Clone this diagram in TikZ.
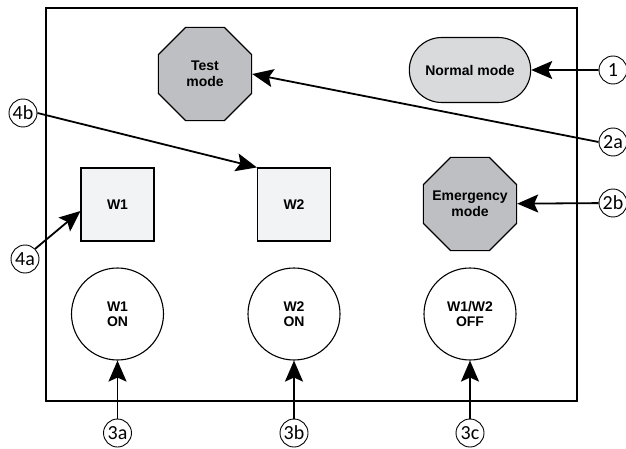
\documentclass[tikz,border=0pt]{standalone}
\usepackage{fontspec}
\setmainfont{Liberation Sans}
\newfontfamily\calloutfont{Carlito}
\definecolor{modegray}{RGB}{190,191,194}
\definecolor{normalgray}{RGB}{217,218,220}
\definecolor{boxgray}{RGB}{242,243,245}
\usetikzlibrary{arrows.meta,shapes.geometric,shapes.misc}

\begin{document}
\begin{tikzpicture}[x=1pt,y=-1pt,
  octa/.style={draw,line width=1.1pt,fill=modegray,regular polygon,regular polygon sides=8,
    minimum size=101pt,inner sep=-14pt,align=center,font=\fontsize{14}{16.5}\selectfont\bfseries},
  wbox/.style={draw,line width=1.1pt,fill=boxgray,minimum size=73pt,inner sep=0pt,
    font=\fontsize{14}{15}\selectfont\bfseries},
  wstate/.style={draw,line width=1.1pt,circle,minimum size=92pt,inner sep=0pt,align=center,
    font=\fontsize{14}{15}\selectfont\bfseries},
  callout/.style={draw,line width=0.9pt,circle,fill=white,minimum size=28pt,inner sep=0pt,
    font=\fontsize{20}{20}\selectfont\calloutfont},
  pointer/.style={line width=1.8pt,-{Stealth[length=21pt,width=18pt,inset=4pt]}}]
  \useasboundingbox (0,0) rectangle (626,449);
  % Frame
  \draw[line width=1.1pt] (46,8) rectangle (577,401);
  % Modes
  \node[octa] (test) at (205,74) {Test\\mode};
  \node[draw,line width=1.1pt,fill=normalgray,rounded rectangle,minimum width=128pt,
    minimum height=65pt,font=\fontsize{14}{16}\selectfont\bfseries] (normal) at (470,70) {Normal mode};
  \node[octa] (emergency) at (470,204) {Emergency\\mode};
  % Windows
  \node[wbox] (W1) at (117.5,204.5) {W1};
  \node[wbox] (W2) at (294,204.5) {W2};
  % States
  \node[wstate] (w1on) at (117.5,314) {W1\\ON};
  \node[wstate] (w2on) at (294,314) {W2\\ON};
  \node[wstate] (off) at (470,314) {W1/W2\\OFF};
  % Callouts
  \node[callout] (c1) at (613,70) {1};
  \node[callout] (c2a) at (613,142) {2a};
  \node[callout] (c2b) at (613,203) {2b};
  \node[callout] (c4b) at (23,113) {4b};
  \node[callout] (c4a) at (25,259) {4a};
  \node[callout] (c3a) at (117.5,433) {3a};
  \node[callout] (c3b) at (294,433) {3b};
  \node[callout] (c3c) at (470,433) {3c};
  % Pointers
  \draw[pointer] (c1) -- (normal);
  \draw[pointer] (c2a.west) -- (test.east);
  \draw[pointer] (c2b) -- (emergency);
  \draw[pointer] (c4b.east) -- (W2.north west);
  \draw[pointer] (c4a.north east) -- ([yshift=-6.5pt]W1.west);
  \draw[pointer] (c3a) -- (w1on);
  \draw[pointer] (c3b) -- (w2on);
  \draw[pointer] (c3c) -- (off);
\end{tikzpicture}
\end{document}
